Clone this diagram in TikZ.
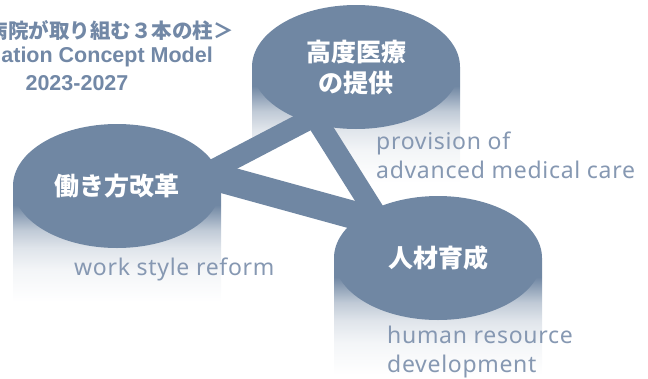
\documentclass[tikz,border=0pt]{standalone}
\usepackage{fontspec}
\setmainfont{Noto Sans}
\newfontfamily\jp{Noto Sans CJK JP}
\newfontfamily\ttlfont{Liberation Sans}
\newfontfamily\lblfont{Noto Sans}[LetterSpace=3]
\usetikzlibrary{shapes.geometric}
\definecolor{ell}{HTML}{7087A3}
\definecolor{ttl}{HTML}{7288A6}
\definecolor{lbl}{HTML}{8698B2}
\colorlet{fadeA}{ell!44!white}
\colorlet{fadeB}{ell!22!white}
\colorlet{fadeC}{ell!8!white}
\pgfdeclareverticalshading{pillarfade}{100bp}{color(0bp)=(white); color(25bp)=(white); color(38.8bp)=(fadeC); color(48.3bp)=(fadeB); color(56bp)=(fadeA); color(66.8bp)=(ell); color(100bp)=(ell)}
\tikzset{
 pillar/.style={ellipse, fill=ell, minimum width=208pt, minimum height=124pt, inner sep=0pt,
   text=white, font=\jp\bfseries\fontsize{25}{31}\selectfont, align=center},
 pillarshade/.style={shading=pillarfade, draw=none},
 bar/.style={draw=ell, line cap=butt},
 englabel/.style={text=lbl, font=\lblfont\fontsize{23}{29}\selectfont, anchor=base west, align=left, inner sep=0pt},
 ttlj/.style={text=ttl, font=\jp\bfseries\fontsize{20.5}{24}\selectfont, inner sep=0pt},
 ttle/.style={text=ttl, font=\ttlfont\bfseries\fontsize{21.5}{24}\selectfont, inner sep=0pt},
}
\begin{document}
\begin{tikzpicture}[x=1pt,y=-1pt]
\useasboundingbox (0,0) rectangle (648,378);
\clip (0,0) rectangle (648,378);
% centres
\coordinate (Lc) at (117,186);
\coordinate (Tc) at (356,67);
\coordinate (Rc) at (438,258);
% cylinder shadings
\shade[pillarshade] (13,186) rectangle (221,302);
\shade[pillarshade] (252,67) rectangle (460,183);
\shade[pillarshade] (334,258) rectangle (542,375);
% inner white triangle
\fill[white] (235,170) -- (310,130) -- (357,200) -- cycle;
% bar end points
\coordinate (lt1) at (180,187);
\coordinate (lt2) at (330,108.6);
\coordinate (lr1) at (180,167.3);
\coordinate (lr2) at (420,233.3);
\coordinate (tr1) at (304,100);
\coordinate (tr2) at (392,240);
\draw[bar, line width=20.5pt] (lt1) -- (lt2);
\draw[bar, line width=28pt] (lr1) -- (lr2);
\draw[bar, line width=21pt] (tr1) -- (tr2);
% pillars
\node[pillar] (T) at (Tc) {高度医療\\の提供};
\node[pillar] (L) at (Lc) {働き方改革};
\node[pillar] (R) at (Rc) {人材育成};
% english labels (base = last line)
\node[englabel] (Te) at (376,178) {provision of\\advanced medical care};
\node[englabel] (Le) at (74,275) {work style reform};
\node[englabel] (Re) at (387,372) {human resource\\development};
% title
\node[ttlj, anchor=base east] (t1) at (234,38) {病院が取り組む３本の柱＞};
\node[ttle, anchor=base east] (t2) at (213,62) {ation Concept Model};
\node[ttle, anchor=base] (t3) at (77,90) {2023-2027};
\end{tikzpicture}
\end{document}
